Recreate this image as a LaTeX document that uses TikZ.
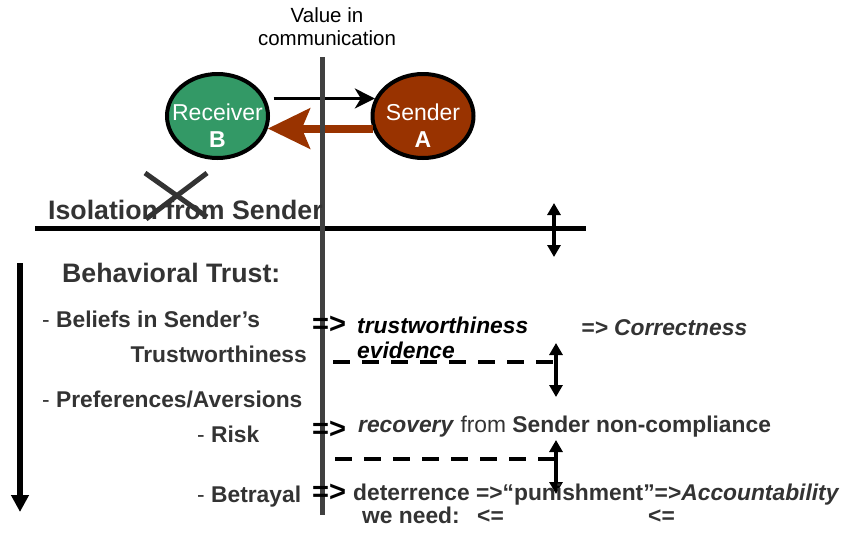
\documentclass[tikz,border=0pt]{standalone}
\usepackage{fontspec}
\setmainfont{Liberation Sans}
\usepackage{tikz}
\usetikzlibrary{shapes.geometric, arrows.meta}

\definecolor{senderred}{RGB}{153,51,0}
\definecolor{receivergreen}{RGB}{51,153,102}
\definecolor{textgray}{RGB}{51,51,51}
\definecolor{axisgray}{RGB}{64,64,64}

\tikzset{
  party/.style={ellipse, draw, line width=4pt, minimum width=101pt, minimum height=84pt, inner sep=0pt},
  partytext/.style={anchor=base, text=white, inner sep=0pt, font=\fontsize{23}{27}\selectfont},
  headtxt/.style={anchor=base west, inner sep=0pt, text=textgray, font=\fontsize{26.7}{30}\selectfont\bfseries},
  txt/.style={anchor=base west, inner sep=0pt, text=textgray, font=\fontsize{22.8}{27}\selectfont\bfseries},
  impl/.style={anchor=base west, inner sep=0pt, font=\fontsize{29}{32}\selectfont\bfseries},
  dashline/.style={line width=4pt, dash pattern=on 17pt off 12pt},
  dblarrow/.style={line width=3.5pt, {Triangle[length=12pt,width=13pt]}-{Triangle[length=12pt,width=13pt]}}
}

\begin{document}
\begin{tikzpicture}[x=1pt, y=-1pt]
  \useasboundingbox (0,0) rectangle (841,536);

  % Parties
  \node[party, fill=receivergreen] (recv) at (217.5,116) {};
  \node[party, fill=senderred] (send) at (423,116) {};

  % Message arrows
  \draw[line width=3pt, -{Stealth[length=20pt,width=20pt,inset=6pt]}, shorten <=8pt] (recv.20) -- (send.160);
  \draw[line width=8pt, senderred, -{Stealth[length=42pt,width=40pt,inset=8pt]}] (send.194) -- (recv.-14);

  % Lines
  \coordinate (htop) at (35,228);
  \coordinate (hend) at (586,228);
  \draw[line width=5pt] (htop) -- (hend);

  \coordinate (vtop) at (322,57);
  \coordinate (vbot) at (322,515);
  \draw[line width=5pt, axisgray] (vtop) -- (vbot);

  \coordinate (x1) at (145,173);
  \coordinate (x2) at (207,217);
  \coordinate (x3) at (146,219);
  \coordinate (x4) at (207,173);
  \draw[line width=5pt, textgray] (x1) -- (x2);
  \draw[line width=5pt, textgray] (x3) -- (x4);

  \coordinate (d1a) at (333,362);
  \coordinate (d1b) at (560,362);
  \coordinate (d2a) at (335,459);
  \coordinate (d2b) at (560,459);
  \draw[dashline] (d1a) -- (d1b);
  \draw[dashline] (d2a) -- (d2b);

  \coordinate (a0t) at (554,203);
  \coordinate (a0b) at (554,257);
  \coordinate (a1t) at (556,343);
  \coordinate (a1b) at (556,397);
  \coordinate (a2t) at (556,440);
  \coordinate (a2b) at (556,494);
  \draw[dblarrow] (a0t) -- (a0b);
  \draw[dblarrow] (a1t) -- (a1b);
  \draw[dblarrow] (a2t) -- (a2b);

  \coordinate (ltop) at (20,263);
  \coordinate (lbot) at (20,512);
  \draw[line width=6pt, -{Triangle[length=17pt,width=17pt]}] (ltop) -- (lbot);

  % Texts
  \node[partytext] (recvname) at (217.5,120) {Receiver};
  \node[partytext] (recvlet) at (217.5,147) {\bfseries B};
  \node[partytext] (sendname) at (423,120) {Sender};
  \node[partytext] (sendlet) at (423,147) {\bfseries A};

  \node[anchor=base, inner sep=0pt, font=\fontsize{20.5}{23}\selectfont] (val1) at (327,22) {Value in};
  \node[anchor=base, inner sep=0pt, font=\fontsize{20.5}{23}\selectfont] (val2) at (327,45) {communication};

  \node[headtxt] (iso) at (48,219) {Isolation from Sender};
  \node[headtxt] (trust) at (62,282) {Behavioral Trust:};

  \node[txt] (beliefs) at (42,327) {{\mdseries -} Beliefs in Sender’s};
  \node[txt, anchor=base east] (worth) at (307,362) {Trustworthiness};
  \node[txt] (prefs) at (42,407) {{\mdseries -} Preferences/Aversions};
  \node[txt] (risk) at (197,442) {{\mdseries -} Risk};
  \node[txt] (betray) at (197,502) {{\mdseries -} Betrayal};

  \node[impl] (i1) at (312,333) {=>};
  \node[impl] (i2) at (312,438) {=>};
  \node[impl] (i3) at (312,501) {=>};

  \node[txt, text=black, font=\fontsize{22.8}{27}\selectfont\bfseries\itshape] (evid1) at (357,333) {trustworthiness};
  \node[txt, text=black, font=\fontsize{22.8}{27}\selectfont\bfseries\itshape] (evid2) at (357,358) {evidence};
  \node[txt, font=\fontsize{22.8}{27}\selectfont\bfseries\itshape] (correct) at (581,335) {=> Correctness};

  \node[txt] (recov) at (358,432) {\itshape recovery\/ \mdseries\upshape from \bfseries Sender non-compliance};
  \node[txt] (deter) at (353,500) {deterrence =>“punishment”=>\itshape Accountability};
  \node[txt] (need) at (362,523) {we need:};
  \node[txt] (back1) at (477,523) {<=};
  \node[txt] (back2) at (648,523) {<=};
\end{tikzpicture}
\end{document}
